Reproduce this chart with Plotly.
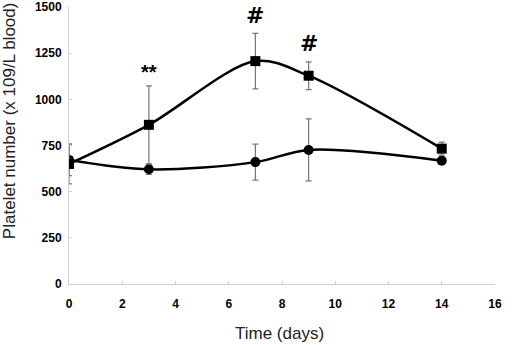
import plotly.graph_objects as go

days = [0, 3, 7, 9, 14]
treated = [650, 862, 1207, 1128, 733]
treated_err = [108, 211, 150, 75, 35]
control = [672, 621, 660, 726, 668]
control_err = [85, 28, 97, 168, 15]
annot_x = [3, 7, 9]
annot_text = ["**", "#", "#"]
annot_y = [1150, 1375, 1224]
x_title = "Time (days)"
y_title = "Platelet number (x 109/L blood)"

FONT = "Liberation Sans, Arial"

fig = go.Figure()
for y, e, sym in [(control, control_err, "circle"), (treated, treated_err, "square")]:
    fig.add_trace(go.Scatter(
        x=days, y=y, mode="lines+markers",
        line=dict(color="black", width=2.5, shape="spline", smoothing=0.9),
        marker=dict(symbol=sym, size=10, color="black"),
        error_y=dict(type="data", array=e, visible=True, color="#777777", thickness=1.2, width=3),
        showlegend=False,
    ))

for x, t, y in zip(annot_x, annot_text, annot_y):
    fig.add_annotation(x=x, y=y, text="<b>%s</b>" % t, showarrow=False,
                       font=dict(family="DejaVu Sans" if t == "#" else FONT,
                                 size=22 if t == "#" else 20, color="black"),
                       yanchor="bottom" if t == "#" else "middle")

fig.add_annotation(xref="paper", yref="paper", x=0.493, y=-0.1805, text=x_title,
                   showarrow=False, xanchor="center", yanchor="middle",
                   font=dict(family=FONT, size=17, color="#222222"))
fig.add_annotation(xref="paper", yref="paper", x=-0.1408, y=0.588, text=y_title,
                   showarrow=False, xanchor="center", yanchor="middle", textangle=-90,
                   font=dict(family=FONT, size=17, color="#222222"))

fig.update_layout(
    width=520, height=345,
    margin=dict(l=69, r=25, t=7, b=61),
    plot_bgcolor="white", paper_bgcolor="white",
    font=dict(family=FONT, color="black"),
    xaxis=dict(range=[0, 16], tickvals=list(range(0, 17, 2)), automargin=False,
               showline=True, linecolor="#d0d0d0", linewidth=1, showgrid=False, zeroline=False,
               ticks="inside", ticklen=3, tickcolor="#d0d0d0", ticklabelstandoff=9,
               tickfont=dict(size=12, family=FONT, weight="bold")),
    yaxis=dict(range=[0, 1500], tickvals=[0, 250, 500, 750, 1000, 1250, 1500], automargin=False,
               showline=True, linecolor="#d0d0d0", linewidth=1, showgrid=False, zeroline=False,
               ticks="inside", ticklen=3, tickcolor="#d0d0d0", ticklabelstandoff=4,
               tickfont=dict(size=12, family=FONT, weight="bold")),
)
fig.write_html("out.html", config={"displayModeBar": False},
               post_script="document.body.style.margin='0';")
